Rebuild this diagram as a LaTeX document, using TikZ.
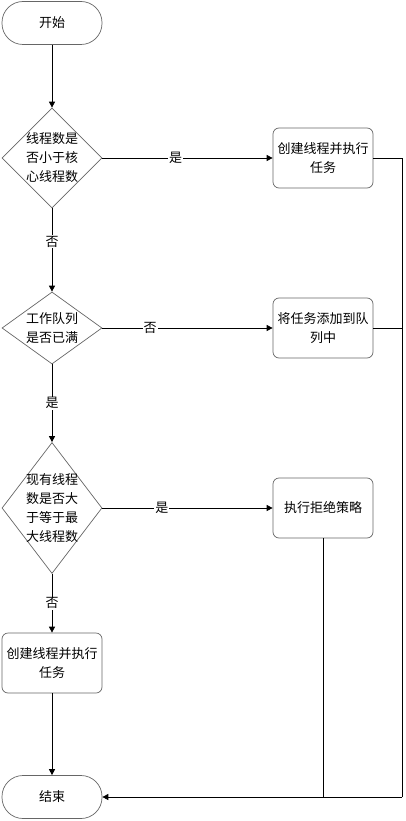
\documentclass[tikz,border=0pt]{standalone}
\usepackage{fontspec}
\newfontfamily\cjk{Noto Sans CJK SC}
\usetikzlibrary{shapes.geometric,arrows.meta}
\tikzset{
	txt/.style={font=\cjk\fontsize{13pt}{19pt}\selectfont, align=center},
	terminal/.style={draw=black!60, line width=0.7pt, rounded corners=21pt, minimum width=100pt, minimum height=43pt, txt},
	process/.style={draw=black!60, line width=0.7pt, rounded corners=6pt, minimum width=100pt, minimum height=60pt, txt},
	decision/.style={diamond, draw=black!60, line width=0.7pt, inner sep=0pt, minimum width=100pt},
	flow/.style={draw=black, line width=0.8pt},
	arrow/.style={flow, -{Triangle[length=6pt,width=6pt]}},
	cond/.style={txt, fill=white, inner sep=1pt}
}
\begin{document}
\begin{tikzpicture}[x=1pt,y=-1pt]
	\useasboundingbox (0,0) rectangle (406,821);
	% nodes
	\node[terminal] (start) at (52,23) {开始};
	\node[decision, minimum height=100pt, label={[txt]center:线程数是\\否小于核\\心线程数}] (core) at (52,158) {};
	\node[process] (create1) at (323,158) {创建线程并执行\\任务};
	\node[decision, minimum height=72pt, label={[txt]center:工作队列\\是否已满}] (queue) at (52,328) {};
	\node[process] (add) at (323,328) {将任务添加到队\\列中};
	\node[decision, minimum height=131pt, label={[txt]center:现有线程\\数是否大\\于等于最\\大线程数}] (max) at (52,508) {};
	\node[process] (reject) at (323,508) {执行拒绝策略};
	\node[process] (create2) at (52,663) {创建线程并执行\\任务};
	\node[terminal] (stop) at (52,797) {结束};
	\coordinate (rb) at (402,797);
	% main flow
	\draw[arrow] (start) -- (core);
	\draw[arrow] (core) -- node[cond, pos=0.4] {否} (queue);
	\draw[arrow] (queue) -- node[cond] {是} (max);
	\draw[arrow] (max) -- node[cond] {否} (create2);
	\draw[arrow] (create2) -- (stop);
	% branches
	\draw[arrow] (core) -- node[cond, pos=0.43] {是} (create1);
	\draw[arrow] (queue) -- node[cond, pos=0.28] {否} (add);
	\draw[arrow] (max) -- node[cond, pos=0.35] {是} (reject);
	% back to end
	\draw[flow] (create1.east) -| (rb);
	\draw[flow] (add.east) -- (add.east -| rb);
	\draw[flow] (reject.south) -- (reject.south |- rb);
	\draw[arrow] (rb) -- (stop.east);
\end{tikzpicture}
\end{document}
